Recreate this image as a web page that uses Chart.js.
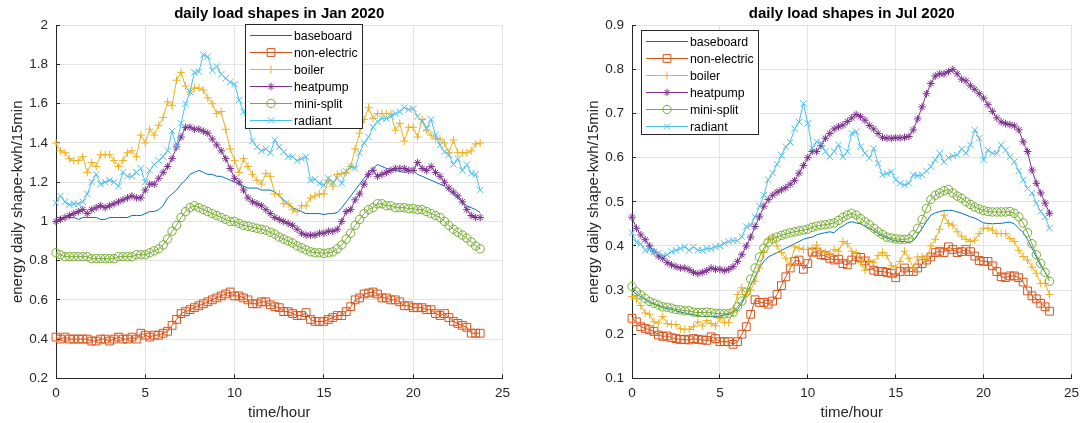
<!DOCTYPE html>
<html>
<head>
<meta charset="utf-8">
<script src="https://cdn.jsdelivr.net/npm/chart.js@4.4.1/dist/chart.umd.min.js"></script>
<style>
  body { margin: 0; background: #fff; width: 1090px; height: 423px; overflow: hidden; position: relative; }
  .panel { position: absolute; top: 0; width: 545px; height: 423px; }
  .legend { position: absolute; box-sizing: border-box; width: 118px; height: 105px; padding-top: 2px;
            background: #fff; border: 1px solid #262626; font: 12.3px "Liberation Sans", Arial, sans-serif; color: #000; }
  .legend .row { display: flex; align-items: center; height: 17px; }
  .legend canvas { margin-left: 4px; margin-right: 2px; }
</style>
</head>
<body>
<div class="panel" style="left:0"><canvas id="janChart" width="545" height="423"></canvas></div>
<div class="panel" style="left:545px"><canvas id="julChart" width="545" height="423"></canvas></div>
<div class="legend" id="janLegend" style="left:245px;top:24px"></div>
<div class="legend" id="julLegend" style="left:641px;top:30px"></div>
<script>
// 15 minute steps over one day
const hours = Array.from({ length: 96 }, (_, k) => k * 0.25);

const seriesNames = ["baseboard", "non-electric", "boiler", "heatpump", "mini-split", "radiant"];

const xTicks = [0, 5, 10, 15, 20, 25];
const janYTicks = [0.2, 0.4, 0.6, 0.8, 1, 1.2, 1.4, 1.6, 1.8, 2];
const julYTicks = [0.1, 0.2, 0.3, 0.4, 0.5, 0.6, 0.7, 0.8, 0.9];

// ---- Jan 2020 ----
const janBaseboard = [
  1.02,1.02,1.02,1.02, 1.02,1.01,1.02,1.02, 1.02,1.02,1.01,1.01, 1.02,1.02,1.02,1.02,
  1.02,1.03,1.03,1.03, 1.04,1.05,1.05,1.06, 1.08,1.12,1.14,1.16, 1.19,1.21,1.24,1.25,
  1.26,1.25,1.24,1.24, 1.23,1.23,1.22,1.21, 1.20,1.19,1.18,1.17, 1.17,1.17,1.16,1.16,
  1.16,1.15,1.13,1.11, 1.09,1.07,1.06,1.05, 1.04,1.04,1.04,1.04, 1.035,1.04,1.04,1.045,
  1.07,1.10,1.13,1.16, 1.19,1.22,1.25,1.27, 1.29,1.28,1.27,1.265, 1.26,1.255,1.25,1.255,
  1.26,1.24,1.23,1.22, 1.21,1.20,1.19,1.18, 1.16,1.14,1.12,1.10, 1.08,1.07,1.06,1.045
];
const janNonElectric = [
  0.41,0.40,0.41,0.40, 0.40,0.40,0.40,0.40, 0.39,0.39,0.40,0.40, 0.39,0.40,0.41,0.40,
  0.40,0.41,0.40,0.43, 0.42,0.41,0.42,0.42, 0.43,0.44,0.47,0.50, 0.53,0.54,0.55,0.56,
  0.57,0.58,0.59,0.60, 0.61,0.62,0.63,0.64, 0.62,0.62,0.61,0.60, 0.58,0.58,0.59,0.59,
  0.575,0.565,0.56,0.54, 0.54,0.53,0.52,0.52, 0.535,0.50,0.49,0.49, 0.49,0.50,0.51,0.52,
  0.52,0.54,0.565,0.60, 0.61,0.63,0.635,0.64, 0.63,0.61,0.61,0.60, 0.60,0.59,0.57,0.57,
  0.56,0.56,0.56,0.55, 0.55,0.53,0.52,0.53, 0.51,0.49,0.48,0.47, 0.46,0.43,0.43,0.43
];
const janBoiler = [
  1.40,1.36,1.35,1.32, 1.31,1.31,1.33,1.25, 1.30,1.28,1.34,1.34, 1.34,1.31,1.28,1.31,
  1.35,1.36,1.33,1.44, 1.40,1.47,1.44,1.49, 1.53,1.61,1.59,1.72, 1.76,1.69,1.66,1.68,
  1.68,1.67,1.63,1.60, 1.55,1.56,1.47,1.37, 1.31,1.25,1.32,1.28, 1.24,1.21,1.19,1.245,
  1.23,1.14,1.14,1.09, 1.09,1.06,1.05,1.08, 1.08,1.12,1.13,1.14, 1.14,1.21,1.18,1.24,
  1.245,1.25,1.28,1.37, 1.45,1.52,1.58,1.525, 1.55,1.55,1.55,1.55, 1.465,1.50,1.41,1.48,
  1.48,1.43,1.52,1.465, 1.44,1.42,1.42,1.40, 1.35,1.415,1.35,1.35, 1.35,1.36,1.395,1.40
];
const janHeatpump = [
  1.00,1.01,1.02,1.03, 1.04,1.05,1.06,1.04, 1.06,1.07,1.08,1.07, 1.08,1.09,1.10,1.11,
  1.12,1.13,1.12,1.12, 1.16,1.19,1.19,1.22, 1.25,1.28,1.32,1.38, 1.43,1.48,1.48,1.47,
  1.47,1.46,1.45,1.42, 1.39,1.36,1.32,1.27, 1.22,1.20,1.16,1.12, 1.10,1.09,1.08,1.06,
  1.04,1.02,1.01,1.00, 0.99,0.98,0.96,0.94, 0.93,0.93,0.93,0.94, 0.94,0.95,0.95,0.96,
  1.00,1.05,1.06,1.11, 1.14,1.19,1.24,1.26, 1.23,1.24,1.25,1.26, 1.27,1.27,1.27,1.26,
  1.26,1.30,1.27,1.26, 1.28,1.25,1.23,1.20, 1.17,1.15,1.13,1.10, 1.06,1.03,1.02,1.02
];
const janMiniSplit = [
  0.84,0.83,0.82,0.82, 0.82,0.82,0.82,0.82, 0.81,0.81,0.81,0.81, 0.81,0.81,0.82,0.82,
  0.82,0.82,0.83,0.83, 0.83,0.84,0.85,0.86, 0.88,0.91,0.95,0.98, 1.02,1.05,1.07,1.08,
  1.07,1.06,1.05,1.04, 1.03,1.02,1.01,1.00, 1.00,0.99,0.98,0.975, 0.97,0.965,0.96,0.955,
  0.945,0.935,0.92,0.91, 0.90,0.89,0.875,0.865, 0.855,0.845,0.84,0.84, 0.837,0.84,0.845,0.86,
  0.88,0.91,0.94,0.98, 1.01,1.04,1.06,1.07, 1.09,1.09,1.08,1.08, 1.07,1.07,1.07,1.065,
  1.065,1.06,1.06,1.05, 1.04,1.03,1.02,1.00, 0.98,0.96,0.945,0.93, 0.915,0.895,0.875,0.86
];
const janRadiant = [
  1.095,1.13,1.10,1.085, 1.09,1.09,1.10,1.14, 1.20,1.24,1.19,1.20, 1.21,1.20,1.18,1.25,
  1.23,1.23,1.25,1.27, 1.20,1.26,1.29,1.31, 1.33,1.36,1.46,1.38, 1.50,1.60,1.66,1.76,
  1.764,1.85,1.84,1.77, 1.79,1.75,1.73,1.71, 1.70,1.62,1.56,1.50, 1.41,1.38,1.36,1.37,
  1.35,1.415,1.38,1.355, 1.33,1.33,1.31,1.32, 1.33,1.21,1.215,1.195, 1.185,1.22,1.20,1.22,
  1.195,1.255,1.28,1.27, 1.35,1.40,1.43,1.48, 1.51,1.525,1.525,1.535, 1.55,1.56,1.58,1.57,
  1.575,1.535,1.51,1.475, 1.52,1.44,1.39,1.355, 1.34,1.29,1.32,1.26, 1.29,1.245,1.24,1.16
];

// ---- Jul 2020 ----
const julBaseboard = [
  0.30,0.29,0.285,0.278, 0.272,0.268,0.264,0.26, 0.258,0.256,0.253,0.25, 0.248,0.246,0.244,0.242,
  0.24,0.24,0.24,0.24, 0.241,0.243,0.245,0.25, 0.256,0.27,0.29,0.31, 0.33,0.35,0.365,0.375,
  0.38,0.385,0.39,0.395, 0.40,0.405,0.41,0.415, 0.418,0.42,0.425,0.428, 0.43,0.432,0.43,0.44,
  0.445,0.452,0.455,0.452, 0.45,0.445,0.44,0.435, 0.428,0.422,0.418,0.414, 0.412,0.41,0.41,0.408,
  0.412,0.425,0.44,0.455, 0.47,0.475,0.478,0.48, 0.481,0.48,0.477,0.474, 0.47,0.466,0.463,0.458,
  0.452,0.451,0.45,0.451, 0.451,0.453,0.454,0.45, 0.44,0.43,0.414,0.395, 0.375,0.355,0.34,0.327
];
const julNonElectric = [
  0.236,0.228,0.217,0.213, 0.21,0.206,0.198,0.195, 0.196,0.192,0.19,0.188, 0.188,0.187,0.19,0.188,
  0.187,0.186,0.194,0.19, 0.183,0.183,0.183,0.177, 0.183,0.20,0.217,0.245, 0.278,0.272,0.272,0.268,
  0.275,0.29,0.31,0.33, 0.35,0.365,0.368,0.347, 0.36,0.386,0.386,0.38, 0.378,0.372,0.368,0.37,
  0.36,0.357,0.368,0.375, 0.374,0.366,0.356,0.345, 0.342,0.342,0.34,0.338, 0.328,0.342,0.35,0.342,
  0.342,0.35,0.36,0.368, 0.375,0.385,0.388,0.385, 0.398,0.392,0.385,0.387, 0.392,0.387,0.377,0.367,
  0.365,0.365,0.355,0.342, 0.33,0.328,0.332,0.332, 0.328,0.318,0.298,0.287, 0.28,0.27,0.262,0.252
];
const julBoiler = [
  0.285,0.28,0.265,0.248, 0.245,0.228,0.225,0.24, 0.224,0.222,0.222,0.212, 0.211,0.211,0.217,0.228,
  0.219,0.231,0.224,0.219, 0.236,0.226,0.226,0.25, 0.29,0.305,0.29,0.30, 0.32,0.35,0.385,0.415,
  0.42,0.40,0.385,0.372, 0.355,0.398,0.395,0.392, 0.392,0.392,0.402,0.388, 0.385,0.382,0.392,0.388,
  0.41,0.405,0.388,0.385, 0.362,0.345,0.368,0.362, 0.378,0.385,0.378,0.355, 0.352,0.365,0.388,0.372,
  0.35,0.375,0.375,0.37, 0.40,0.415,0.438,0.47, 0.451,0.447,0.432,0.422, 0.415,0.41,0.413,0.428,
  0.44,0.44,0.436,0.428, 0.428,0.428,0.417,0.41, 0.39,0.376,0.368,0.352, 0.338,0.315,0.315,0.29
];
const julHeatpump = [
  0.465,0.44,0.425,0.414, 0.40,0.387,0.377,0.372, 0.362,0.357,0.353,0.35, 0.35,0.346,0.34,0.337,
  0.34,0.344,0.35,0.347, 0.347,0.344,0.347,0.353, 0.365,0.38,0.40,0.42, 0.444,0.466,0.49,0.505,
  0.515,0.522,0.527,0.532, 0.54,0.548,0.565,0.582, 0.60,0.614,0.614,0.627, 0.644,0.655,0.665,0.67,
  0.674,0.682,0.69,0.698, 0.693,0.685,0.673,0.665, 0.655,0.646,0.644,0.644, 0.645,0.645,0.646,0.648,
  0.663,0.688,0.715,0.745, 0.768,0.785,0.79,0.79, 0.795,0.80,0.79,0.778, 0.774,0.763,0.755,0.745,
  0.735,0.72,0.705,0.69, 0.681,0.677,0.675,0.672, 0.663,0.636,0.614,0.572, 0.542,0.52,0.497,0.474
];
const julMiniSplit = [
  0.308,0.296,0.289,0.281, 0.274,0.27,0.266,0.262, 0.261,0.259,0.256,0.255, 0.253,0.253,0.25,0.249,
  0.249,0.25,0.249,0.247, 0.247,0.246,0.247,0.25, 0.262,0.275,0.295,0.325, 0.35,0.375,0.395,0.408,
  0.416,0.42,0.424,0.427, 0.43,0.432,0.434,0.436, 0.438,0.442,0.445,0.447, 0.448,0.45,0.452,0.458,
  0.465,0.47,0.474,0.47, 0.462,0.455,0.448,0.44, 0.432,0.426,0.42,0.418, 0.416,0.415,0.415,0.416,
  0.425,0.44,0.46,0.485, 0.505,0.515,0.52,0.525, 0.528,0.52,0.513,0.508, 0.50,0.494,0.488,0.484,
  0.48,0.478,0.477,0.477, 0.477,0.477,0.478,0.474, 0.466,0.452,0.43,0.405, 0.38,0.36,0.34,0.32
];
const julRadiant = [
  0.43,0.408,0.405,0.39, 0.392,0.387,0.383,0.377, 0.38,0.387,0.39,0.394, 0.398,0.39,0.398,0.39,
  0.39,0.394,0.394,0.398, 0.40,0.406,0.41,0.412, 0.412,0.421,0.444,0.447, 0.466,0.49,0.515,0.55,
  0.565,0.585,0.605,0.625, 0.635,0.666,0.681,0.723, 0.678,0.621,0.636,0.633, 0.614,0.602,0.614,0.629,
  0.602,0.614,0.655,0.659, 0.625,0.61,0.599,0.621, 0.587,0.561,0.564,0.568, 0.55,0.542,0.538,0.542,
  0.561,0.559,0.561,0.57, 0.58,0.595,0.61,0.59, 0.60,0.604,0.606,0.62, 0.61,0.629,0.663,0.644,
  0.595,0.617,0.61,0.61, 0.629,0.617,0.602,0.591, 0.57,0.55,0.53,0.52, 0.497,0.478,0.466,0.44
];

// matlab default line colours and markers
const seriesColors = ["#0072BD", "#D95319", "#EDB120", "#7E2F8E", "#77AC30", "#4DBEEE"];
const seriesMarkers = [null, "rect", "cross", "star", "circle", "crossRot"];
const markerSizes = [0, 5.5, 4, 3.8, 4.2, 4.5];

const fontFamily = '"Liberation Sans", Arial, sans-serif';
Chart.defaults.font.family = fontFamily;
Chart.defaults.color = "#262626";

function makeDatasets(seriesValues) {
  return seriesValues.map((vals, i) => ({
    label: seriesNames[i],
    data: vals.map((v, k) => ({ x: hours[k], y: v })),
    borderColor: seriesColors[i],
    backgroundColor: "rgba(0,0,0,0)",
    borderWidth: 1,
    pointStyle: seriesMarkers[i] || "circle",
    pointRadius: seriesMarkers[i] ? markerSizes[i] : 0,
    pointBorderWidth: 1,
    pointBorderColor: seriesColors[i],
    pointBackgroundColor: "rgba(0,0,0,0)",
    tension: 0,
    clip: false,
    order: seriesValues.length - i
  }));
}

function makeChart(canvasId, title, seriesValues, yTicks, padLeft, padRight) {
  const yMin = yTicks[0], yMax = yTicks[yTicks.length - 1];
  return new Chart(document.getElementById(canvasId), {
    type: "line",
    data: { datasets: makeDatasets(seriesValues) },
    options: {
      responsive: false,
      animation: false,
      events: [],
      layout: { padding: { left: padLeft, right: padRight, top: 0, bottom: 0 } },
      plugins: {
        legend: { display: false },
        tooltip: { enabled: false },
        title: {
          display: true,
          text: title,
          fullSize: false,
          color: "#000",
          font: { size: 15, weight: "bold" },
          padding: { top: 5, bottom: 2.3 }
        }
      },
      scales: {
        x: {
          type: "linear",
          min: 0,
          max: 25,
          afterBuildTicks: (s) => { s.ticks = xTicks.map(v => ({ value: v })); },
          afterFit: (s) => { s.height = 44.7; },
          ticks: { font: { size: 13.5 }, padding: 11, color: "#262626", maxRotation: 0 },
          grid: { color: "#e3e3e3", tickColor: "#262626", tickLength: -4 },
          border: { display: true, color: "#262626", width: 1 },
          title: { display: true, text: "time/hour", font: { size: 15 }, color: "#262626", padding: { top: 0, bottom: 0.7 } }
        },
        y: {
          type: "linear",
          min: yMin,
          max: yMax,
          afterBuildTicks: (s) => { s.ticks = yTicks.map(v => ({ value: v })); },
          afterFit: (s) => { s.width = 56; },
          ticks: { font: { size: 13.5 }, padding: 12, color: "#262626", callback: (v) => String(v) },
          grid: { color: "#e3e3e3", tickColor: "#262626", tickLength: -4 },
          border: { display: true, color: "#262626", width: 1 },
          title: { display: true, text: "energy daily shape-kwh/15min", font: { size: 15 }, color: "#262626", padding: { top: 9.3, bottom: 0 } }
        }
      }
    }
  });
}

makeChart("janChart", "daily load shapes in Jan 2020",
  [janBaseboard, janNonElectric, janBoiler, janHeatpump, janMiniSplit, janRadiant], janYTicks, 0, 42.5);
makeChart("julChart", "daily load shapes in Jul 2020",
  [julBaseboard, julNonElectric, julBoiler, julHeatpump, julMiniSplit, julRadiant], julYTicks, 31, 11.5);

// legend boxes sit on top of the lines, like matlab's
function buildLegend(id) {
  const box = document.getElementById(id);
  seriesNames.forEach((name, i) => {
    const row = document.createElement("div");
    row.className = "row";
    const c = document.createElement("canvas");
    c.width = 42; c.height = 17;
    const ctx = c.getContext("2d");
    ctx.strokeStyle = seriesColors[i];
    ctx.fillStyle = "rgba(0,0,0,0)";
    ctx.lineWidth = 1;
    ctx.beginPath(); ctx.moveTo(0, 8.5); ctx.lineTo(42, 8.5); ctx.stroke();
    if (seriesMarkers[i] && Chart.helpers && Chart.helpers.drawPoint) {
      Chart.helpers.drawPoint(ctx, { pointStyle: seriesMarkers[i], radius: markerSizes[i], borderWidth: 1, rotation: 0 }, 21, 8.5);
    }
    const label = document.createElement("span");
    label.textContent = name;
    row.appendChild(c);
    row.appendChild(label);
    box.appendChild(row);
  });
}
buildLegend("janLegend");
buildLegend("julLegend");
</script>
</body>
</html>
